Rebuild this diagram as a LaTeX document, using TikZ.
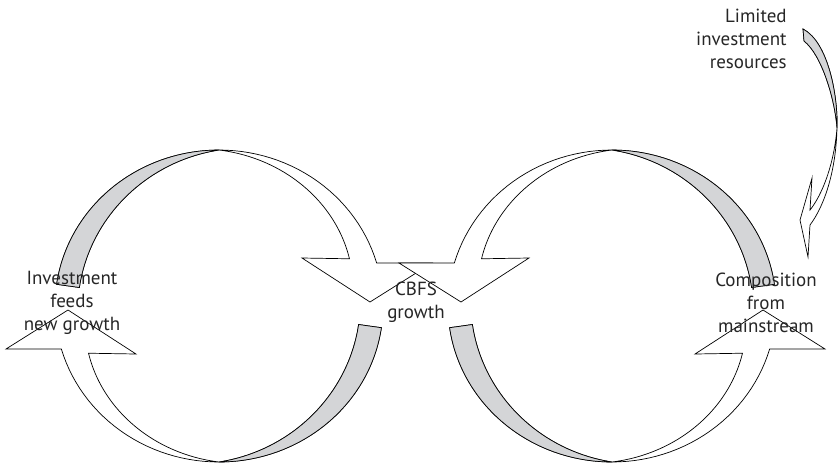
\documentclass[tikz,border=0pt]{standalone}
\usepackage{fontspec}
\setmainfont{PT Sans}
\definecolor{bandgray}{RGB}{212,213,215}

\begin{document}
\begin{tikzpicture}[x=1pt, y=-1pt, line width=0.7pt, line join=miter,
        band/.style={draw=black, fill=white},
        underside/.style={draw=black, fill=bandgray},
        lbl/.style={align=center, inner sep=0pt, text=black!85,
            font=\fontsize{19}{23}\selectfont}]
    \useasboundingbox (0,0) rectangle (839,467);

    % Two loops, the right one mirrored about x=415.5
    \foreach \s in {1,-1} {
        \begin{scope}[shift={(415.5,0)}, xscale=\s, shift={(-196.5,306)}]
            % Upper and lower ribbon arrows (half a turn apart)
            \foreach \r in {0,180} {
                \begin{scope}[rotate=\r]
                    % Whole ribbon with its head
                    \draw[band] plot[variable=\t, samples=60, domain=188:344] ({164*cos(\t)}, {156*sin(\t)})
                        -- (213,-43) -- (151,-4) -- (83,-48)
                        -- plot[variable=\t, samples=40, domain=339:270] ({(164-26*(\t-270)/74)*cos(\t)}, {(156-26*(\t-270)/74)*sin(\t)})
                        -- plot[variable=\t, samples=40, domain=270:188] ({(164-23*sin(90*(270-\t)/82))*cos(\t)}, {(156-23*sin(90*(270-\t)/82))*sin(\t)})
                        -- cycle;
                    % Grey underside before the twist
                    \draw[underside] plot[variable=\t, samples=40, domain=188:270] ({164*cos(\t)}, {156*sin(\t)})
                        -- plot[variable=\t, samples=40, domain=270:188] ({(164-23*sin(90*(270-\t)/82))*cos(\t)}, {(156-23*sin(90*(270-\t)/82))*sin(\t)})
                        -- cycle;
                \end{scope}
            }
        \end{scope}
    }

    % Small arrow from the limited resources
    \draw[band] (803,29) .. controls (828,42) and (838,95) .. (837,128)
        .. controls (836,170) and (825,205) .. (810,225)
        -- (808,257) -- (800,220) -- (812,178) -- (810,210)
        .. controls (822,195) and (834,165) .. (837,128)
        .. controls (835,100) and (822,55) .. (804,41) -- cycle;
    \draw[underside] (803,29) .. controls (828,42) and (838,95) .. (837,128)
        .. controls (835,100) and (822,55) .. (804,41) -- cycle;

    % Labels
    \node[lbl] (invest) at (72,303) {Investment\\feeds\\new growth};
    \node[lbl] (cbfs) at (416,302) {CBFS\\growth};
    \node[lbl] (compo) at (766,303) {Composition\\from\\mainstream};
    \node[lbl, align=right, anchor=east] (limited) at (787,39) {Limited\\investment\\resources};
\end{tikzpicture}
\end{document}
